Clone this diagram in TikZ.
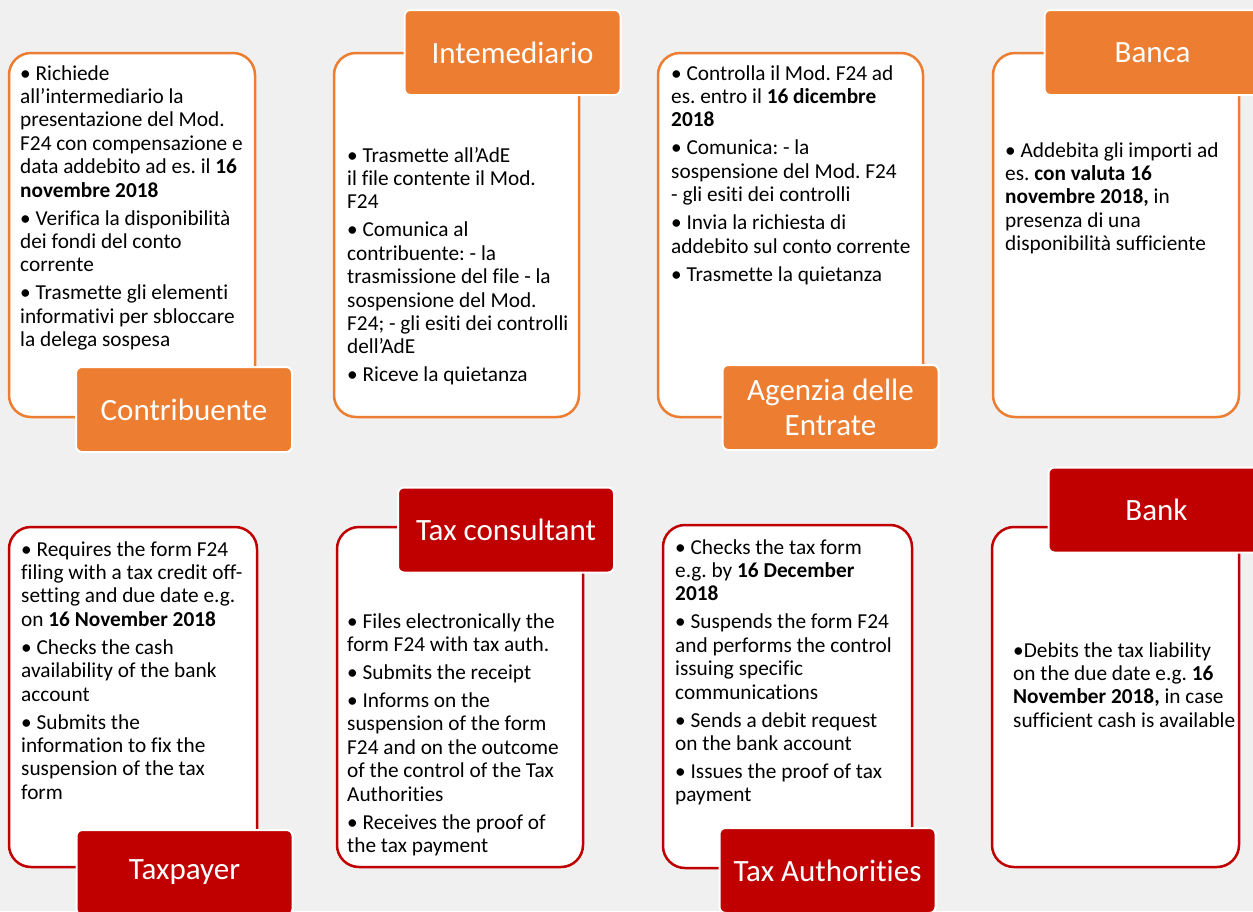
\documentclass[tikz,border=0pt]{standalone}
\usepackage{fontspec}
\setmainfont{Carlito}[Ligatures=NoCommon]
\frenchspacing
\definecolor{bgray}{HTML}{F0F0F0}
\definecolor{orng}{HTML}{ED7D31}
\definecolor{dred}{HTML}{C00000}
% body text: a top-aligned block whose baseline is the first line
\newcommand\bodyblock[1]{\vtop{\hsize=320pt\parindent=0pt\parskip=4.6pt
  \fontsize{21.3}{23.4}\selectfont\raggedright\leavevmode #1\par}}
\tikzset{
  card/.style={draw=#1, fill=white, line width=2.5pt, rounded corners=22pt},
  tag/.style={draw=white, fill=#1, line width=2pt, rounded corners=6pt,
    minimum width=216pt, minimum height=85pt, text=white, align=center,
    font=\fontsize{31}{34.5}\selectfont, inner sep=0pt},
  txt/.style={anchor=base west, inner sep=0pt, text=black}
}
\begin{document}
\begin{tikzpicture}[x=1pt,y=-1pt]
\useasboundingbox (0,0) rectangle (1253,911);
\fill[bgray] (0,0) rectangle (1253,911);

% ---------- Italian row ----------
\node[card=orng, minimum width=246pt, minimum height=364pt] (c1) at (132,235) {};
\node[card=orng, minimum width=245pt, minimum height=364pt] (c2) at (456.5,235) {};
\node[card=orng, minimum width=265pt, minimum height=364pt] (c3) at (790.5,235) {};
\node[card=orng, minimum width=246pt, minimum height=364pt] (c4) at (1116,235) {};

\node[txt] (t1) at (20,80) {\bodyblock{%
•~Richiede\\ all’intermediario la\\ presentazione del Mod.\\ F24 con compensazione e\\ data addebito ad es. il \textbf{16}\\ \textbf{novembre 2018}\par
•~Verifica la disponibilità\\ dei fondi del conto\\ corrente\par
•~Trasmette gli elementi\\ informativi per sbloccare\\ la delega sospesa}};

\node[txt] (t2) at (347,162) {\bodyblock{%
•~Trasmette all’AdE\\ il file contente il Mod.\\ F24\par
•~Comunica al\\ contribuente: - la\\ trasmissione del file - la\\ sospensione del Mod.\\ F24; - gli esiti dei controlli\\ dell’AdE\par
•~Riceve la quietanza}};

\node[txt] (t3) at (671,80) {\bodyblock{%
•~Controlla il Mod. F24 ad\\ es. entro il \textbf{16 dicembre}\\ \textbf{2018}\par
•~Comunica: - la\\ sospensione del Mod. F24\\ - gli esiti dei controlli\par
•~Invia la richiesta di\\ addebito sul conto corrente\par
•~Trasmette la quietanza}};

\node[txt] (t4) at (1005,157) {\bodyblock{%
•~Addebita gli importi ad\\ es. \textbf{con valuta 16}\\ \textbf{novembre 2018,} in\\ presenza di una\\ disponibilità sufficiente}};

\node[tag=orng] (l1) at (184,409.5) {Contribuente};
\node[tag=orng] (l2) at (512.5,52.5) {Intemediario};
\node[tag=orng] (l3) at (830.5,407.5) {Agenzia delle\\Entrate};
\node[tag=orng] (l4) at (1152.5,52.5) {Banca};

% ---------- English row ----------
\node[card=dred, minimum width=248pt, minimum height=340pt] (c5) at (133,697) {};
\node[card=dred, minimum width=246pt, minimum height=340pt] (c6) at (460,697) {};
\node[card=dred, minimum width=249pt, minimum height=343pt] (c7) at (787.5,696.5) {};
\node[card=dred, minimum width=247pt, minimum height=340pt] (c8) at (1115.5,697) {};

\node[txt] (t5) at (21,556) {\bodyblock{%
•~Requires the form F24\\ filing with a tax credit off-\\ setting and due date e.g.\\ on \textbf{16 November 2018}\par
•~Checks the cash\\ availability of the bank\\ account\par
•~Submits the\\ information to fix the\\ suspension of the tax\\ form}};

\node[txt] (t6) at (347,628) {\bodyblock{%
•~Files electronically the\\ form F24 with tax auth.\par
•~Submits the receipt\par
•~Informs on the\\ suspension of the form\\ F24 and on the outcome\\ of the control of the Tax\\ Authorities\par
•~Receives the proof of\\ the tax payment}};

\node[txt] (t7) at (675,554) {\bodyblock{%
•~Checks the tax form\\ e.g. by \textbf{16 December}\\ \textbf{2018}\par
•~Suspends the form F24\\ and performs the control\\ issuing specific\\ communications\par
•~Sends a debit request\\ on the bank account\par
•~Issues the proof of tax\\ payment}};

\node[txt] (t8) at (1013,657) {\bodyblock{%
•Debits the tax liability\\ on the due date e.g. \textbf{16}\\ \textbf{November 2018,} in case\\ sufficient cash is available}};

\node[tag=dred] (l5) at (184.5,872.5) {Taxpayer};
\node[tag=dred] (l6) at (506,530) {Tax consultant};
\node[tag=dred] (l7) at (827.5,870.5) {Tax Authorities};
\node[tag=dred] (l8) at (1156.5,510) {Bank};
\end{tikzpicture}
\end{document}
